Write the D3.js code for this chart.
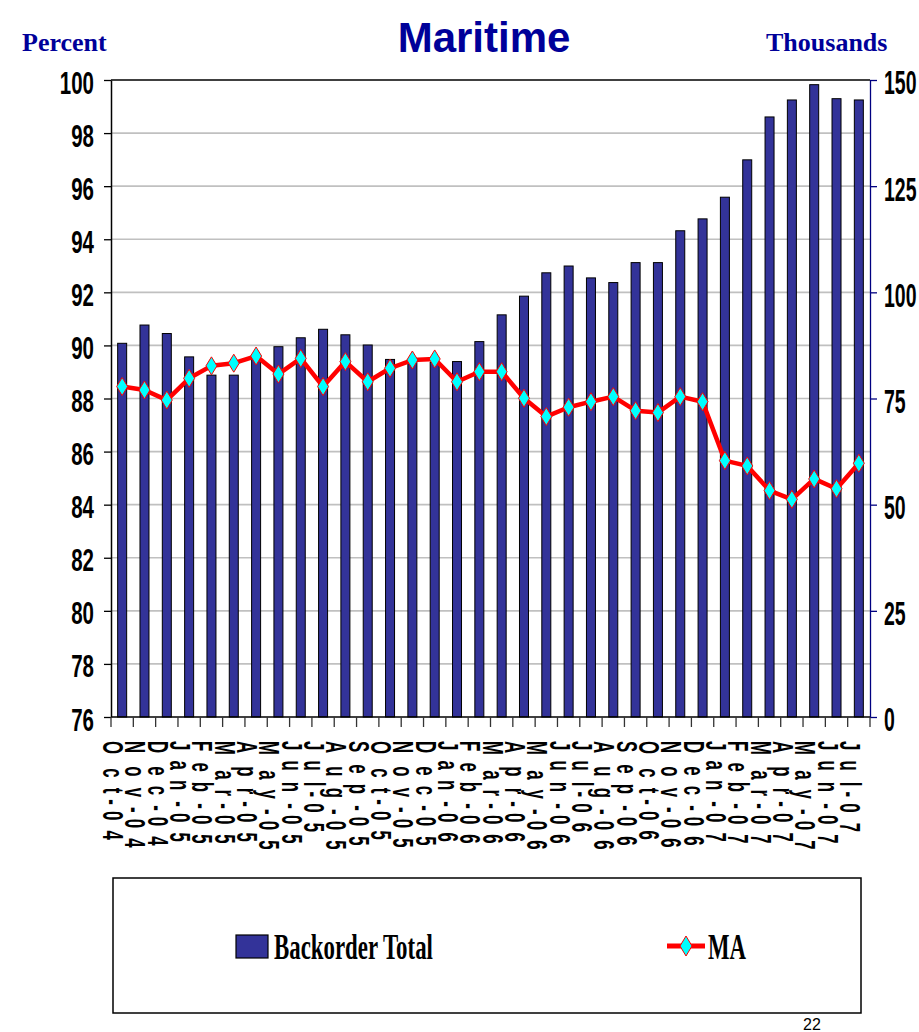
<!DOCTYPE html>
<html>
<head>
<meta charset="utf-8">
<script src="https://cdn.jsdelivr.net/npm/d3@7"></script>
<style>
  html, body { margin: 0; padding: 0; background: #ffffff; }
  svg { display: block; }
</style>
</head>
<body>
<svg id="chart" width="919" height="1032"></svg>
<script>
// Monthly categories
const categories = [
  'Oct-04','Nov-04','Dec-04','Jan-05','Feb-05','Mar-05','Apr-05','May-05','Jun-05',
  'Jul-05','Aug-05','Sep-05','Oct-05','Nov-05','Dec-05','Jan-06','Feb-06','Mar-06',
  'Apr-06','May-06','Jun-06','Jul-06','Aug-06','Sep-06','Oct-06','Nov-06','Dec-06',
  'Jan-07','Feb-07','Mar-07','Apr-07','May-07','Jun-07','Jul-07'
];

// Backorder total, thousands (right axis)
const backorderTotal = [
  88.0, 92.3, 90.3, 84.8, 80.5, 80.5, 84.5, 87.2, 89.3,
  91.3, 90.0, 87.6, 84.2, 84.0, 83.5, 83.7, 88.4, 94.7,
  99.1, 104.6, 106.2, 103.4, 102.3, 107.0, 107.0, 114.5, 117.3,
  122.4, 131.2, 141.3, 145.3, 148.9, 145.6, 145.3
];

// MA, percent (left axis)
const maValues = [
  88.45, 88.32, 87.94, 88.76, 89.23, 89.33, 89.60, 88.92, 89.51,
  88.45, 89.39, 88.63, 89.14, 89.45, 89.49, 88.63, 89.01, 89.01,
  88.01, 87.32, 87.67, 87.88, 88.07, 87.54, 87.47, 88.07, 87.88,
  85.66, 85.46, 84.53, 84.20, 84.97, 84.60, 85.56
];

// Axis tick values
const leftTicks = [76, 78, 80, 82, 84, 86, 88, 90, 92, 94, 96, 98, 100];
const rightTicks = [0, 25, 50, 75, 100, 125, 150];

const barColor = '#333399';
const navy = '#000099';
const sans = '"Liberation Sans", Arial, sans-serif';
const serif = '"Liberation Serif", "Times New Roman", serif';

const svg = d3.select('#chart');
svg.append('rect').attr('width', 919).attr('height', 1032).attr('fill', '#ffffff');

const plot = { left: 111, right: 870, top: 80, bottom: 717 };

const x = d3.scaleBand().domain(categories).range([plot.left, plot.right]).padding(0);
const yL = d3.scaleLinear().domain([76, 100]).range([plot.bottom, plot.top]);
const yR = d3.scaleLinear().domain([0, 150]).range([plot.bottom, plot.top]);
const cx = c => x(c) + x.bandwidth() / 2;

// Titles
svg.append('text').attr('x', 484).attr('y', 52).attr('text-anchor', 'middle')
  .attr('font-family', sans).attr('font-weight', 'bold').attr('font-size', 42)
  .attr('fill', navy).text('Maritime');
svg.append('text').attr('x', 22).attr('y', 51)
  .attr('font-family', serif).attr('font-weight', 'bold').attr('font-size', 26)
  .attr('fill', navy).text('Percent');
svg.append('text').attr('x', 766).attr('y', 51)
  .attr('font-family', serif).attr('font-weight', 'bold').attr('font-size', 26)
  .attr('fill', navy).text('Thousands');

// Gridlines
svg.append('g').selectAll('line').data(leftTicks.filter(t => t > 76 && t < 100)).join('line')
  .attr('x1', plot.left).attr('x2', plot.right)
  .attr('y1', d => yL(d)).attr('y2', d => yL(d))
  .attr('stroke', '#c0c0c0').attr('stroke-width', 1.6);

// Top border
svg.append('line').attr('x1', plot.left).attr('x2', plot.right)
  .attr('y1', plot.top).attr('y2', plot.top).attr('stroke', '#000').attr('stroke-width', 1.5);

// Bars
const barW = 9;
svg.append('g').selectAll('rect').data(categories).join('rect')
  .attr('x', c => cx(c) - barW / 2)
  .attr('y', (c, i) => yR(backorderTotal[i]))
  .attr('width', barW)
  .attr('height', (c, i) => plot.bottom - yR(backorderTotal[i]))
  .attr('fill', barColor).attr('stroke', '#000').attr('stroke-width', 1);

// Left axis
const leftAxis = svg.append('g').attr('transform', `translate(${plot.left},0)`)
  .call(d3.axisLeft(yL).tickValues(leftTicks).tickSize(7).tickSizeOuter(0).tickFormat(d3.format('d')));
leftAxis.select('.domain').attr('stroke', '#000').attr('stroke-width', 1.5);
leftAxis.selectAll('.tick line').attr('stroke', '#000').attr('stroke-width', 1.3);
leftAxis.selectAll('.tick text')
  .attr('x', null).attr('dy', '0.42em')
  .attr('transform', 'translate(-17,0) scale(0.66,1)')
  .attr('font-family', sans).attr('font-weight', 'bold').attr('font-size', 31).attr('fill', '#000');

// Right axis
const rightAxis = svg.append('g').attr('transform', `translate(${plot.right},0)`)
  .call(d3.axisRight(yR).tickValues(rightTicks).tickSize(7).tickSizeOuter(0).tickFormat(d3.format('d')));
rightAxis.select('.domain').attr('stroke', '#000080').attr('stroke-width', 1.3);
rightAxis.selectAll('.tick line').attr('stroke', '#000080').attr('stroke-width', 1.3);
rightAxis.selectAll('.tick text')
  .attr('x', null).attr('dy', '0.42em')
  .attr('transform', 'translate(14,0) scale(0.59,1)')
  .attr('font-family', sans).attr('font-weight', 'bold').attr('font-size', 33).attr('fill', '#000');

// Bottom axis with ticks between categories
svg.append('line').attr('x1', plot.left).attr('x2', plot.right)
  .attr('y1', plot.bottom).attr('y2', plot.bottom).attr('stroke', '#000').attr('stroke-width', 1.6);
svg.append('g').selectAll('line').data(d3.range(categories.length + 1)).join('line')
  .attr('x1', i => plot.left + i * x.step()).attr('x2', i => plot.left + i * x.step())
  .attr('y1', plot.bottom).attr('y2', plot.bottom + 10)
  .attr('stroke', '#333').attr('stroke-width', 1.3);

// MA line and diamond markers
const diamond = (w, h) => `M0,${-h}L${w},0L0,${h}L${-w},0Z`;
svg.append('path')
  .datum(maValues)
  .attr('d', d3.line().x((d, i) => cx(categories[i])).y(d => yL(d)))
  .attr('fill', 'none').attr('stroke', '#ff0000').attr('stroke-width', 4.5)
  .attr('stroke-linejoin', 'round');
svg.append('g').selectAll('path').data(maValues).join('path')
  .attr('transform', (d, i) => `translate(${cx(categories[i])},${yL(d)})`)
  .attr('d', diamond(5.5, 9))
  .attr('fill', '#00ffff').attr('stroke', '#ff0000').attr('stroke-width', 1);

// Category labels: glyphs turned a quarter turn, stacked downward
const measure = svg.append('text')
  .attr('font-family', sans).attr('font-weight', 'bold').attr('font-size', 35)
  .attr('visibility', 'hidden');
const labelTop = 741;
const labels = svg.append('g');
categories.forEach(c => {
  measure.text(c);
  const chars = c.split('');
  const offsets = chars.map((ch, i) => measure.node().getStartPositionOfChar(i).x);
  const gx = cx(c) - 19;
  chars.forEach((ch, i) => {
    labels.append('text')
      .attr('transform', `translate(${gx},${labelTop + offsets[i]}) rotate(90) scale(0.56,1)`)
      .attr('font-family', sans).attr('font-weight', 'bold').attr('font-size', 30)
      .attr('fill', '#000').text(ch);
  });
});
measure.remove();

// Legend
const legend = svg.append('g');
legend.append('rect').attr('x', 113).attr('y', 878).attr('width', 748).attr('height', 135)
  .attr('fill', '#fff').attr('stroke', '#000').attr('stroke-width', 1.5);
legend.append('rect').attr('x', 236).attr('y', 935).attr('width', 32).attr('height', 23)
  .attr('fill', barColor).attr('stroke', '#000').attr('stroke-width', 1.2);
legend.append('text').attr('transform', 'translate(274,959) scale(0.635,1)')
  .attr('font-family', serif).attr('font-weight', 'bold').attr('font-size', 36)
  .attr('fill', '#000').text('Backorder Total');
legend.append('line').attr('x1', 667).attr('x2', 705).attr('y1', 946).attr('y2', 946)
  .attr('stroke', '#ff0000').attr('stroke-width', 5);
legend.append('path').attr('transform', 'translate(686,946)').attr('d', diamond(6, 10))
  .attr('fill', '#00ffff').attr('stroke', '#ff0000').attr('stroke-width', 1);
legend.append('text').attr('transform', 'translate(708,959) scale(0.635,1)')
  .attr('font-family', serif).attr('font-weight', 'bold').attr('font-size', 36)
  .attr('fill', '#000').text('MA');

// Page number in the bottom-right corner
svg.append('text').attr('x', 803).attr('y', 1030)
  .attr('font-family', sans).attr('font-size', 16).attr('fill', '#000').text('22');
</script>
</body>
</html>
